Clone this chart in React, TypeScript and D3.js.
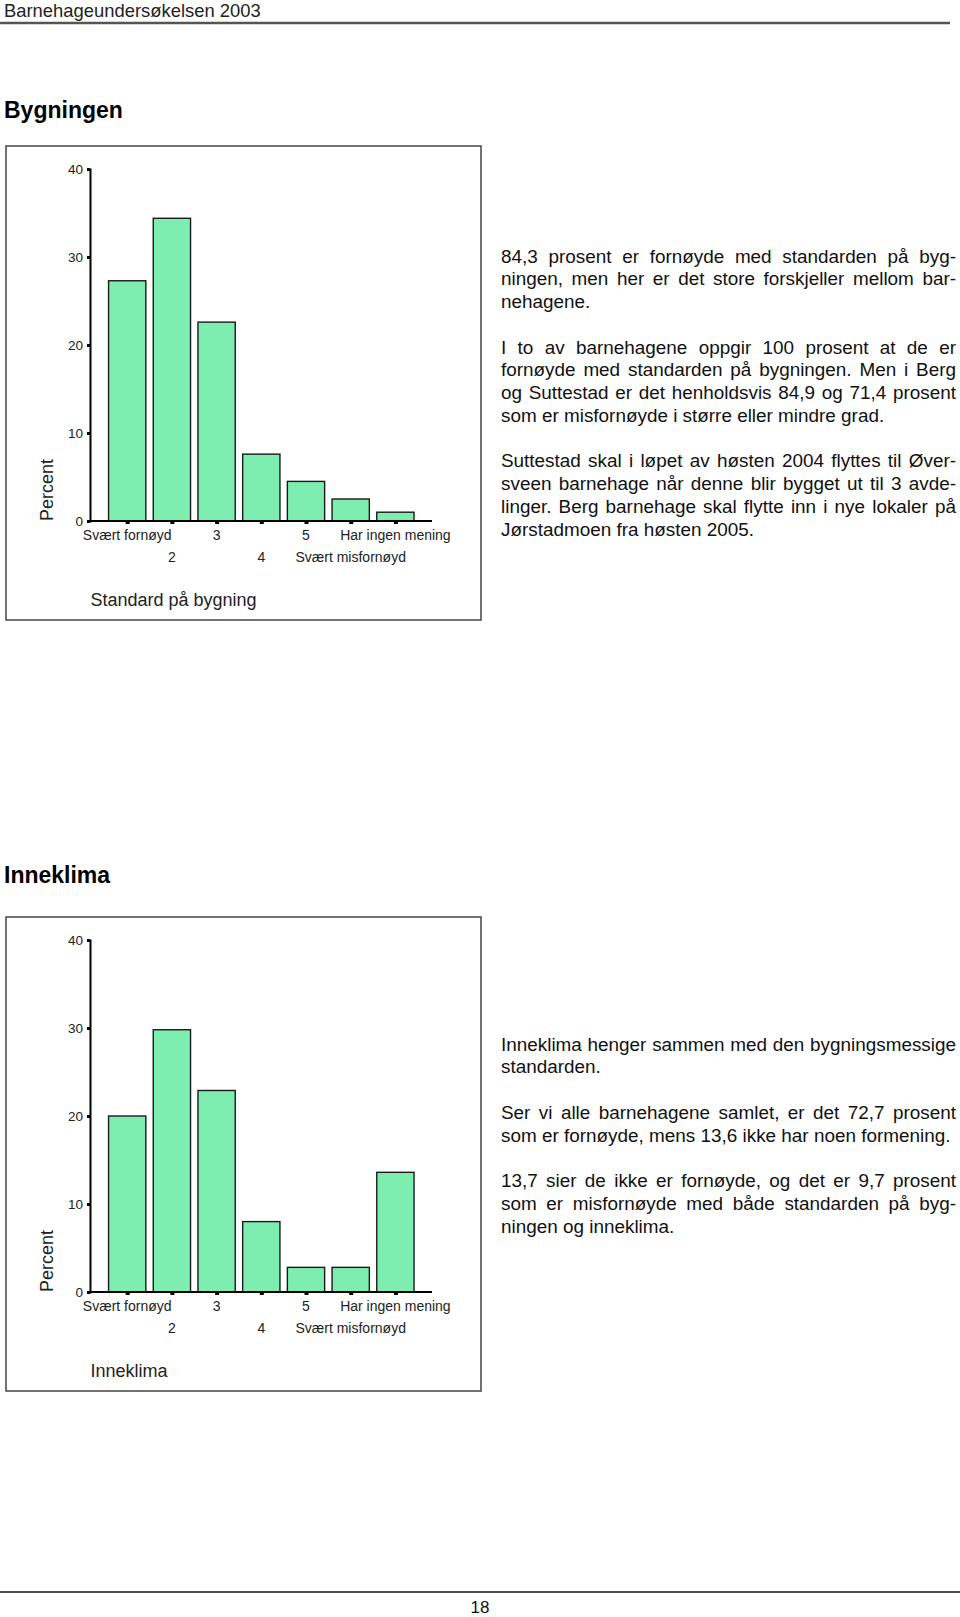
import React, { useRef, useEffect } from "react";
import * as d3 from "d3";

// svarkategorier og tall lest av figurene
const categories = ["Svært fornøyd", "2", "3", "4", "5", "Svært misfornøyd", "Har ingen mening"];
const bygningValues = [27.3, 34.4, 22.6, 7.6, 4.5, 2.5, 1.0];
const inneklimaValues = [20.0, 29.8, 22.9, 8.0, 2.8, 2.8, 13.6];
const yTicks = [0, 10, 20, 30, 40];

const bygningText = [
  ["84,3 prosent er fornøyde med standarden på byg-", "ningen, men her er det store forskjeller mellom bar-", "nehagene."],
  ["I to av barnehagene oppgir 100 prosent at de er", "fornøyde med standarden på bygningen. Men i Berg", "og Suttestad er det henholdsvis 84,9 og 71,4 prosent", "som er misfornøyde i større eller mindre grad."],
  ["Suttestad skal i løpet av høsten 2004 flyttes til Øver-", "sveen barnehage når denne blir bygget ut til 3 avde-", "linger. Berg barnehage skal flytte inn i nye lokaler på", "Jørstadmoen fra høsten 2005."],
];
const inneklimaText = [
  ["Inneklima henger sammen med den bygningsmessige", "standarden."],
  ["Ser vi alle barnehagene samlet, er det 72,7 prosent", "som er fornøyde, mens 13,6 ikke har noen formening."],
  ["13,7 sier de ikke er fornøyde, og det er 9,7 prosent", "som er misfornøyde med både standarden på byg-", "ningen og inneklima."],
];

const FONT = "'Liberation Sans', Arial, Helvetica, sans-serif";
const BAR_FILL = "#7eedb0";

let ctx = null;
function textWidth(t, size) {
  if (!ctx) ctx = document.createElement("canvas").getContext("2d");
  ctx.font = `${size}px ${FONT}`;
  return ctx.measureText(t).width;
}

function drawChart(g, values, top, axisTitle) {
  const y0 = top + 375;
  const y = d3.scaleLinear().domain([0, 40]).range([y0, top + 23]);
  const x = d3.scalePoint().domain(categories).range([127.2, 395.4]);
  const bw = x.step() * 0.834;

  g.append("rect")
    .attr("x", 6).attr("y", top)
    .attr("width", 475).attr("height", 474)
    .attr("fill", "none").attr("stroke", "#444").attr("stroke-width", 1.5);

  g.selectAll(".bar")
    .data(values)
    .join("rect")
    .attr("class", "bar")
    .attr("x", (d, i) => x(categories[i]) - bw / 2)
    .attr("y", d => y(d))
    .attr("width", bw)
    .attr("height", d => y0 - y(d))
    .attr("fill", BAR_FILL)
    .attr("stroke", "#1a1a1a")
    .attr("stroke-width", 1.4);

  // y-akse
  const yAxis = g.append("g").attr("transform", "translate(90,0)")
    .call(d3.axisLeft(y).tickValues(yTicks).tickSize(3).tickPadding(4));
  yAxis.select(".domain").attr("stroke", "#000").attr("stroke-width", 2);
  yAxis.selectAll(".tick line").attr("stroke", "#000").attr("stroke-width", 3);
  yAxis.selectAll(".tick text")
    .attr("font-family", FONT).attr("font-size", 13.5).attr("fill", "#222");

  // x-akse
  const xAxis = g.append("g").attr("transform", `translate(0,${y0})`)
    .call(d3.axisBottom(x).tickSize(3).tickFormat(() => ""));
  xAxis.select(".domain").attr("d", "M89,0H432").attr("stroke", "#000").attr("stroke-width", 2);
  xAxis.selectAll(".tick line").attr("stroke", "#000").attr("stroke-width", 4);

  g.selectAll(".xlab")
    .data(categories)
    .join("text")
    .attr("class", "xlab")
    .attr("x", d => x(d))
    .attr("y", (d, i) => y0 + (i % 2 === 0 ? 19 : 41))
    .attr("text-anchor", "middle")
    .attr("font-family", FONT)
    .attr("font-size", 14)
    .attr("fill", "#222")
    .text(d => d);

  g.append("text")
    .attr("transform", `translate(53,${y0 - 31}) rotate(-90)`)
    .attr("text-anchor", "middle")
    .attr("font-family", FONT)
    .attr("font-size", 18)
    .attr("fill", "#222")
    .text("Percent");

  g.append("text")
    .attr("x", 90.5).attr("y", y0 + 85)
    .attr("font-family", FONT)
    .attr("font-size", 18)
    .attr("fill", "#222")
    .text(axisTitle);
}

function drawParagraphs(g, paras, firstLine) {
  const left = 501, right = 956, lh = 22.75, size = 18.9;
  let k = 0;
  paras.forEach((lines) => {
    lines.forEach((line, li) => {
      const base = firstLine + k * lh + 6;
      const justify = li < lines.length - 1;
      const words = line.split(" ");
      if (!justify) {
        g.append("text").attr("x", left).attr("y", base)
          .attr("font-family", FONT).attr("font-size", size).attr("fill", "#111")
          .text(line);
      } else {
        const widths = words.map(w => textWidth(w, size));
        const gap = (right - left - d3.sum(widths)) / (words.length - 1);
        let cx = left;
        words.forEach((w, wi) => {
          g.append("text").attr("x", cx).attr("y", base)
            .attr("font-family", FONT).attr("font-size", size).attr("fill", "#111")
            .text(w);
          cx += widths[wi] + gap;
        });
      }
      k++;
    });
    k++;
  });
}

export default function App() {
  const ref = useRef(null);

  useEffect(() => {
    const svg = d3.select(ref.current);
    svg.selectAll("*").remove();

    svg.append("text").attr("x", 4).attr("y", 17)
      .attr("font-family", FONT).attr("font-size", 18.4).attr("fill", "#222")
      .text("Barnehageundersøkelsen 2003");
    svg.append("line").attr("x1", 0).attr("x2", 950).attr("y1", 23).attr("y2", 23)
      .attr("stroke", "#555").attr("stroke-width", 2.5);

    svg.append("text").attr("x", 4).attr("y", 118)
      .attr("font-family", FONT).attr("font-size", 23).attr("font-weight", "bold").attr("fill", "#000")
      .text("Bygningen");
    drawChart(svg.append("g"), bygningValues, 146, "Standard på bygning");
    drawParagraphs(svg.append("g"), bygningText, 256.7);

    svg.append("text").attr("x", 4).attr("y", 883)
      .attr("font-family", FONT).attr("font-size", 23).attr("font-weight", "bold").attr("fill", "#000")
      .text("Inneklima");
    drawChart(svg.append("g"), inneklimaValues, 917, "Inneklima");
    drawParagraphs(svg.append("g"), inneklimaText, 1044.5);

    svg.append("line").attr("x1", 0).attr("x2", 960).attr("y1", 1592).attr("y2", 1592)
      .attr("stroke", "#111").attr("stroke-width", 1.5);
    svg.append("text").attr("x", 480).attr("y", 1613).attr("text-anchor", "middle")
      .attr("font-family", FONT).attr("font-size", 17).attr("fill", "#111")
      .text("18");
  }, []);

  return (
    <svg ref={ref} width={960} height={1617}
      style={{ position: "absolute", left: 0, top: 0, background: "#fff" }} />
  );
}
